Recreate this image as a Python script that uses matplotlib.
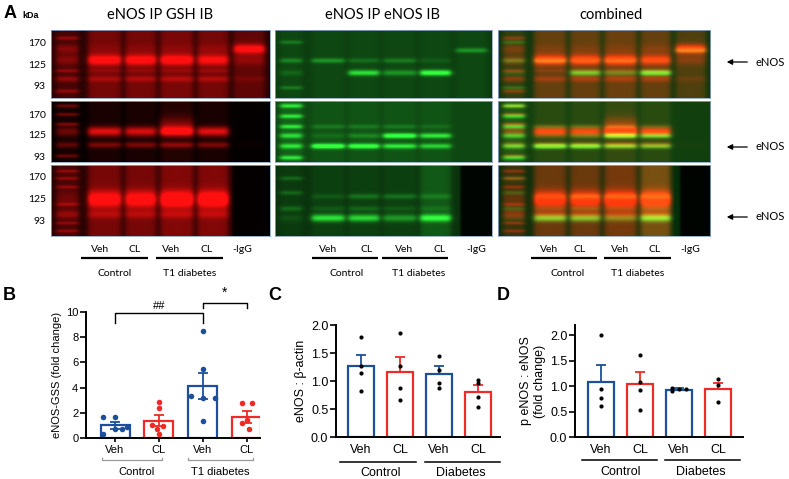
import numpy as np
import matplotlib
matplotlib.use('Agg')
import matplotlib.pyplot as plt
import matplotlib.transforms as mtransforms

W, H = 789, 479

# ---------------- bar chart data ----------------
groups = ['Veh', 'CL', 'Veh', 'CL']

# panel B: eNOS-GSS (fold change)
b_means = [1.0, 1.37, 4.15, 1.69]
b_sems = [0.28, 0.43, 1.03, 0.48]
b_points = [
    [1.7, 1.65, 0.85, 0.75, 0.7, 0.35],
    [2.85, 2.35, 1.0, 0.95, 0.7, 0.35],
    [8.5, 5.45, 3.3, 3.15, 3.15, 1.37],
    [2.75, 2.75, 1.43, 1.16, 0.69],
]
b_offsets = [
    [-0.27, 0.0, 0.28, 0.0, 0.15, -0.27],
    [0.0, 0.0, -0.15, 0.1, -0.05, 0.0],
    [0.0, 0.0, -0.27, 0.0, 0.27, 0.0],
    [-0.12, 0.12, 0.0, -0.1, 0.05],
]

# panel C: eNOS : beta-actin
c_means = [1.26, 1.16, 1.12, 0.81]
c_sems = [0.21, 0.26, 0.14, 0.11]
c_points = [
    [1.79, 1.27, 1.15, 0.83],
    [1.85, 1.27, 0.87, 0.66],
    [1.45, 1.2, 0.96, 0.88],
    [1.02, 0.96, 0.72, 0.54],
]

# panel D: p eNOS : eNOS (fold change)
d_means = [1.08, 1.04, 0.93, 0.95]
d_sems = [0.33, 0.23, 0.03, 0.11]
d_points = [
    [2.01, 0.95, 0.77, 0.61],
    [1.62, 1.08, 0.93, 0.53],
    [0.97, 0.90, 0.95, 0.95],
    [1.14, 1.02, 0.68],
]
d_diab_veh_offsets = [-0.18, -0.18, 0.0, 0.18]

# ---------------- blot descriptions ----------------
lane_c = [0.075, 0.245, 0.41, 0.575, 0.74, 0.905]
lane_w = [0.10, 0.15, 0.14, 0.15, 0.14, 0.14]

# each band: (y fraction, sigma, amplitude per lane)
r1_bg, r1_smear = 0.16, [0.12, 0.3, 0.3, 0.32, 0.3, 0.22]
r1_bands = [
    (0.12, 0.02, [0.3, 0, 0, 0, 0, 0]),
    (0.28, 0.05, [0.25, 0.08, 0.08, 0.08, 0.12, 0.75]),
    (0.44, 0.055, [0.25, 0.7, 0.7, 0.7, 0.6, 0.2]),
    (0.60, 0.02, [0.3, 0.12, 0.12, 0.12, 0.15, 0]),
    (0.72, 0.03, [0.3, 0.22, 0.25, 0.25, 0.25, 0.1]),
    (0.90, 0.02, [0.3, 0, 0, 0, 0, 0]),
]
g1_bg, g1_smear = 0.24, [0.04, 0.04, 0.04, 0.04, 0.04, 0.04]
g1_bands = [
    (0.18, 0.02, [0.2, 0, 0, 0, 0, 0]),
    (0.45, 0.025, [0.25, 0.3, 0.15, 0.2, 0.08, 0]),
    (0.63, 0.03, [0.12, 0, 0.6, 0.3, 0.8, 0]),
    (0.30, 0.025, [0, 0, 0, 0, 0, 0.3]),
    (0.85, 0.02, [0.2, 0, 0, 0, 0, 0]),
]
r2_bg, r2_smear = 0.02, [0.06, 0.08, 0.08, 0.12, 0.08, 0.0]
r2_bands = [
    (0.08, 0.02, [0.35, 0, 0, 0, 0, 0]),
    (0.22, 0.02, [0.35, 0, 0, 0, 0, 0]),
    (0.38, 0.02, [0.4, 0, 0, 0, 0, 0]),
    (0.50, 0.055, [0.35, 0.8, 0.75, 0.9, 0.8, 0]),
    (0.40, 0.1, [0, 0, 0, 0.35, 0, 0]),
    (0.72, 0.035, [0.3, 0.38, 0.38, 0.42, 0.38, 0.02]),
    (0.90, 0.02, [0.35, 0, 0, 0, 0, 0]),
]
g2_bg, g2_smear = 0.28, [0.1, 0.05, 0.05, 0.05, 0.05, 0.0]
g2_bands = [
    (0.08, 0.025, [0.55, 0, 0, 0, 0, 0]),
    (0.25, 0.025, [0.55, 0, 0, 0, 0, 0]),
    (0.42, 0.025, [0.55, 0.15, 0.15, 0.15, 0.1, 0]),
    (0.57, 0.03, [0.5, 0.1, 0.2, 0.8, 0.6, 0]),
    (0.74, 0.03, [0.55, 0.85, 0.8, 0.6, 0.5, 0]),
    (0.93, 0.025, [0.55, 0, 0, 0, 0, 0]),
]
r3_bg, r3_smear, r3_dark = 0.15, [0.15, 0.32, 0.32, 0.36, 0.36, 0.0], 0.83
r3_bands = [
    (0.10, 0.015, [0.3, 0, 0, 0, 0, 0]),
    (0.20, 0.015, [0.3, 0, 0, 0, 0, 0]),
    (0.32, 0.015, [0.3, 0, 0, 0, 0, 0]),
    (0.49, 0.08, [0.15, 0.75, 0.75, 0.85, 0.85, 0]),
    (0.56, 0.015, [0.3, 0, 0, 0, 0, 0]),
    (0.70, 0.04, [0.3, 0.25, 0.25, 0.25, 0.25, 0]),
    (0.82, 0.015, [0.3, 0, 0, 0, 0, 0]),
    (0.93, 0.015, [0.3, 0, 0, 0, 0, 0]),
]
g3_bg, g3_smear, g3_dark = 0.2, [0.03, 0.05, 0.05, 0.05, 0.15, 0.0], 0.855
g3_bands = [
    (0.20, 0.02, [0.18, 0, 0, 0, 0, 0]),
    (0.40, 0.02, [0.18, 0, 0, 0, 0, 0]),
    (0.45, 0.025, [0, 0.1, 0.2, 0.2, 0.15, 0]),
    (0.62, 0.025, [0.18, 0.1, 0.15, 0.1, 0.1, 0]),
    (0.75, 0.035, [0.08, 0.65, 0.6, 0.35, 0.7, 0]),
]


def render(nx, ny, bg, smear, bands, dark_from=None):
    x = (np.arange(nx) + 0.5) / nx
    y = (np.arange(ny) + 0.5) / ny
    img = np.full((ny, nx), bg)
    for i, (c, w) in enumerate(zip(lane_c, lane_w)):
        prof = 0.5 * (np.tanh((x - (c - w / 2)) / 0.014) - np.tanh((x - (c + w / 2)) / 0.014))
        col = np.full(ny, smear[i])
        for y0, sig, amps in bands:
            col = col + amps[i] * np.exp(-0.5 * ((y - y0) / sig) ** 2)
        img = img + np.outer(col, prof)
    if dark_from is not None:
        edge = 0.5 * (1 + np.tanh((x - dark_from) / 0.005))
        img = img * (1 - edge)[None, :] + 0.02 * edge[None, :]
    return np.clip(img, 0, 1)


fig = plt.figure(figsize=(W / 100, H / 100), dpi=100)


def box(x0, y0, x1, y1):
    return [x0 / W, 1 - y1 / H, (x1 - x0) / W, (y1 - y0) / H]


cols = [(51, 270), (275, 492), (498, 710)]
rows = [(30, 98), (101, 162), (165, 236)]
row_specs = [
    (r1_bg, r1_smear, r1_bands, None, g1_bg, g1_smear, g1_bands, None),
    (r2_bg, r2_smear, r2_bands, None, g2_bg, g2_smear, g2_bands, None),
    (r3_bg, r3_smear, r3_bands, r3_dark, g3_bg, g3_smear, g3_bands, g3_dark),
]

for (y0, y1), spec in zip(rows, row_specs):
    rbg, rsm, rb, rd, gbg, gsm, gb, gd = spec
    nx, ny = 220, y1 - y0
    R = render(nx, ny, rbg, rsm, rb, rd)
    G = render(nx, ny, gbg, gsm, gb, gd)
    red_img = np.dstack([R, 0.06 * R, 0.06 * R])
    green_img = np.dstack([0.2 * G, G, 0.25 * G])
    Rc = np.clip((R - rbg) * 1.1 + 0.04, 0, 1)
    comb_img = np.dstack([np.clip(Rc + 0.1 * G, 0, 1), 0.9 * G, 0.2 * G])
    for (x0, x1), img in zip(cols, [red_img, green_img, comb_img]):
        ax = fig.add_axes(box(x0, y0, x1, y1))
        ax.imshow(img, aspect='auto', interpolation='bilinear', extent=[0, 1, 1, 0])
        ax.set_xticks([])
        ax.set_yticks([])
        for s in ax.spines.values():
            s.set_color('#8aa2c8')
            s.set_linewidth(0.6)

# overlay in pixel coordinates for panel A text
ov = fig.add_axes([0, 0, 1, 1], zorder=10)
ov.set_xlim(0, W)
ov.set_ylim(H, 0)
ov.axis('off')
ov.patch.set_alpha(0)

lab_font = 'Lato'
ov.text(10, 13, 'A', fontsize=13, fontweight='bold', family='Liberation Sans', ha='center', va='center')
ov.text(31, 15, 'kDa', fontsize=6.5, fontweight='bold', family='Liberation Sans', ha='center', va='center')
ov.text(160, 15, 'eNOS IP GSH IB', fontsize=10.5, family=lab_font, ha='center', va='center')
ov.text(383, 15, 'eNOS IP eNOS IB', fontsize=10.5, family=lab_font, ha='center', va='center')
ov.text(611, 15, 'combined', fontsize=10.5, family=lab_font, ha='center', va='center')

kda_labels = ['170', '125', '93']
kda_y = [[43, 65, 86], [115, 136, 157], [178, 199, 221]]
for ys in kda_y:
    for lab, yy in zip(kda_labels, ys):
        ov.text(46, yy, lab, fontsize=7.5, family=lab_font, ha='right', va='center')

for yy in [62, 147, 217]:
    ov.annotate('', xy=(724, yy), xytext=(750, yy),
                arrowprops=dict(arrowstyle='-|>', color='k', lw=0.9, mutation_scale=8))
    ov.text(756, yy, 'eNOS', fontsize=8, family=lab_font, ha='left', va='center')

lane_labels = ['Veh', 'CL', 'Veh', 'CL', '-IgG']
lane_x = [[100, 135, 171, 207, 242], [328, 367, 404, 440, 476], [549, 580, 620, 655, 690]]
line_x = [[(81, 148), (156, 223)], [(312, 378), (382, 448)], [(531, 597), (604, 671)]]
grp_x = [[115, 190], [347, 419], [568, 638]]
for lx, lnx, gx in zip(lane_x, line_x, grp_x):
    for lab, xx in zip(lane_labels, lx):
        ov.text(xx, 249, lab, fontsize=7.5, family=lab_font, ha='center', va='center')
    for a, b in lnx:
        ov.plot([a, b], [258, 258], color='k', lw=1.6, solid_capstyle='butt')
    ov.text(gx[0], 273, 'Control', fontsize=7.5, family=lab_font, ha='center', va='center')
    ov.text(gx[1], 273, 'T1 diabetes', fontsize=7.5, family=lab_font, ha='center', va='center')

ov.text(9, 295, 'B', fontsize=13, fontweight='bold', family='Liberation Sans', ha='center', va='center')
ov.text(275, 296, 'C', fontsize=13, fontweight='bold', family='Liberation Sans', ha='center', va='center')
ov.text(503, 296, 'D', fontsize=13, fontweight='bold', family='Liberation Sans', ha='center', va='center')

# ---------------- bar panels ----------------
blue = '#1d4f9b'
red = '#ee2b26'
colors = [blue, red, blue, red]
plt.rcParams['font.family'] = ['Liberation Sans', 'DejaVu Sans']


def style_axes(ax, fs):
    for s in ['top', 'right']:
        ax.spines[s].set_visible(False)
    for s in ['left', 'bottom']:
        ax.spines[s].set_linewidth(1.4)
    ax.tick_params(axis='y', labelsize=fs, width=1.2, length=4, pad=1.5)
    ax.tick_params(axis='x', labelsize=fs, width=1.2, length=3, pad=2)


xs = np.arange(4)

# B
axB = fig.add_axes(box(86, 312, 260, 438))
for i in range(4):
    axB.bar(xs[i], b_means[i], width=0.66, facecolor='white', edgecolor=colors[i], linewidth=1.6, zorder=2)
    axB.errorbar(xs[i], b_means[i], yerr=b_sems[i], color=colors[i], lw=1.3, capsize=3.6, capthick=1.3, zorder=3)
    axB.scatter(xs[i] + np.array(b_offsets[i]), b_points[i], s=16, color=colors[i], zorder=4, linewidths=0)
axB.set_xlim(-0.66, 3.3)
axB.set_ylim(0, 10)
axB.set_yticks([0, 2, 4, 6, 8, 10])
axB.set_xticks(xs)
axB.set_xticklabels(groups)
style_axes(axB, 8)
axB.set_ylabel('eNOS-GSS (fold change)', fontsize=8, labelpad=3)
# significance brackets
axB.plot([0, 0, 2, 2], [9.15, 9.9, 9.9, 9.15], color='k', lw=1.0, clip_on=False)
axB.text(1.0, 10.5, '##', fontsize=8, ha='center', va='center')
axB.plot([2, 2, 3, 3], [10.3, 10.75, 10.75, 10.3], color='k', lw=1.0, clip_on=False)
axB.text(2.5, 11.5, '*', fontsize=10, ha='center', va='center')
trB = mtransforms.blended_transform_factory(axB.transData, axB.transAxes)
for a, b in [(-0.3, 1.07), (1.65, 3.15)]:
    axB.plot([a, a, b, b], [-0.155, -0.175, -0.175, -0.155], color='#999999', lw=0.9,
             transform=trB, clip_on=False)
axB.text(0.5, -0.27, 'Control', fontsize=8, ha='center', va='center', transform=trB)
axB.text(2.4, -0.27, 'T1 diabetes', fontsize=8, ha='center', va='center', transform=trB)


def small_panel(ax, means, sems, points, offsets_list, ylim, ylabel, line_y, grp_y, seg):
    for i in range(4):
        ax.bar(xs[i], means[i], width=0.67, facecolor='white', edgecolor=colors[i], linewidth=1.6, zorder=2)
        ax.errorbar(xs[i], means[i], yerr=[[0], [sems[i]]], color=colors[i], lw=1.3,
                    capsize=3.6, capthick=1.3, zorder=1)
        ax.scatter(xs[i] + np.array(offsets_list[i]), points[i], s=9, color='k', zorder=4, linewidths=0)
    ax.set_ylim(*ylim)
    ax.set_yticks([0, 0.5, 1.0, 1.5, 2.0])
    ax.set_yticklabels(['0.0', '0.5', '1.0', '1.5', '2.0'])
    ax.set_xticks(xs)
    ax.set_xticklabels(groups)
    style_axes(ax, 9)
    ax.tick_params(axis='x', length=0, pad=5)
    ax.set_ylabel(ylabel, fontsize=9, labelpad=3)
    tr = mtransforms.blended_transform_factory(ax.transData, ax.transAxes)
    for a, b in seg:
        ax.plot([a, b], [line_y, line_y], color='k', lw=1.1, transform=tr, clip_on=False)
    ax.text(0.5, grp_y, 'Control', fontsize=9, ha='center', va='center', transform=tr)
    ax.text(2.55, grp_y, 'Diabetes', fontsize=9, ha='center', va='center', transform=tr)


axC = fig.add_axes(box(336, 325, 500, 437))
small_panel(axC, c_means, c_sems, c_points, [[0] * 4] * 4, (0, 2.0), 'eNOS : β-actin',
            -0.223, -0.32, [(-0.54, 1.41), (1.64, 3.56)])
axC.set_xlim(-0.64, 3.56)

axD = fig.add_axes(box(575, 325, 743, 437))
d_offs = [[0] * 4, [0] * 4, d_diab_veh_offsets, [0] * 3]
small_panel(axD, d_means, d_sems, d_points, d_offs, (0, 2.2), 'p eNOS : eNOS\n(fold change)',
            -0.205, -0.31, [(-0.49, 1.44), (1.64, 3.56)])
axD.set_xlim(-0.67, 3.64)

fig.savefig('out.png', dpi=100)
